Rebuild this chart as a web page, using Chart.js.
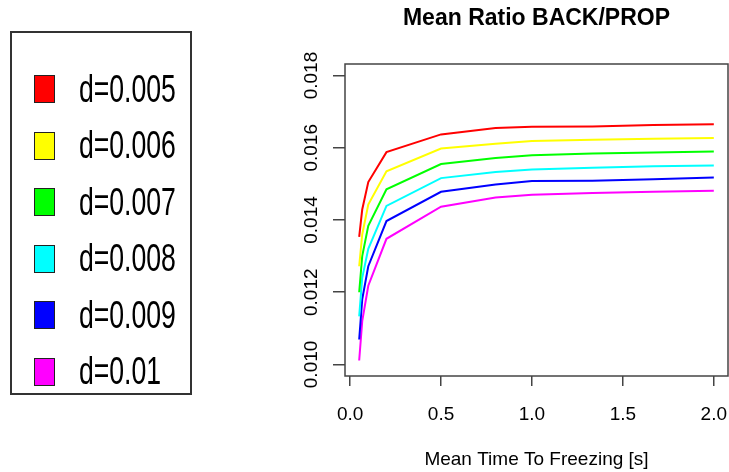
<!DOCTYPE html>
<html>
<head>
<meta charset="utf-8">
<script src="https://cdn.jsdelivr.net/npm/chart.js@4.4.1/dist/chart.umd.min.js"></script>
<style>
  html, body { margin: 0; padding: 0; background: #fff; }
  #wrap { position: relative; width: 729px; height: 472px; }
  #chart { position: absolute; left: 0; top: 0; }
  #legend {
    position: absolute; left: 10px; top: 31px; width: 182px; height: 364px;
    box-sizing: border-box; border: 2px solid #333; padding-top: 27.75px;
    font-family: "Liberation Sans", Arial, sans-serif; overflow: hidden;
  }
  .row { height: 56.5px; display: flex; align-items: center; }
  .sw { flex: none; width: 21px; height: 28px; box-sizing: border-box; border: 1px solid #222; margin-left: 22px; }
  .lab { flex: none; font-size: 38px; line-height: 56.5px; margin-left: 24px; transform: scaleX(0.70); transform-origin: left center; white-space: nowrap; color: #000; }
</style>
</head>
<body>
<div id="wrap">
  <canvas id="chart" width="729" height="472"></canvas>
  <div id="legend"></div>
</div>
<script>
// values
const timeValues = [0.05, 0.0667, 0.1, 0.2, 0.5, 0.8, 1.0, 1.333, 1.667, 2.0];
const seriesLabels = ["d=0.005", "d=0.006", "d=0.007", "d=0.008", "d=0.009", "d=0.01"];
const ratioD005 = [0.01353, 0.01429, 0.01505, 0.01588, 0.01637, 0.01655, 0.01658, 0.01659, 0.01663, 0.01665];
const ratioD006 = [0.01272, 0.01360, 0.01443, 0.01535, 0.01598, 0.01611, 0.01619, 0.01622, 0.01625, 0.01627];
const ratioD007 = [0.01200, 0.01300, 0.01384, 0.01485, 0.01555, 0.01572, 0.01579, 0.01584, 0.01587, 0.01590];
const ratioD008 = [0.01133, 0.01240, 0.01320, 0.01439, 0.01516, 0.01533, 0.01540, 0.01545, 0.01549, 0.01551];
const ratioD009 = [0.01069, 0.01180, 0.01272, 0.01397, 0.01478, 0.01498, 0.01508, 0.01509, 0.01513, 0.01518];
const ratioD010 = [0.01011, 0.01120, 0.01218, 0.01348, 0.01437, 0.01462, 0.01470, 0.01475, 0.01478, 0.01481];
const xTicks = [0, 0.5, 1.0, 1.5, 2.0];
const yTicks = [0.010, 0.012, 0.014, 0.016, 0.018];

const seriesValues = [ratioD005, ratioD006, ratioD007, ratioD008, ratioD009, ratioD010];
const lineColors = ["#ff0000", "#ffff00", "#00ff00", "#00ffff", "#0000ff", "#ff00ff"];
const FONT = '"Liberation Sans", Arial, sans-serif';

// html legend, built from the same labels/colours
const legendEl = document.getElementById('legend');
seriesLabels.forEach((lab, i) => {
    const row = document.createElement('div');
    row.className = 'row';
    row.innerHTML = '<div class="sw" style="background:' + lineColors[i] + '"></div><div class="lab">' + lab + '</div>';
    legendEl.appendChild(row);
});

// box round the plot + rotated y labels (R style)
const rStyle = {
    id: 'rStyle',
    afterDraw(chart) {
        const ctx = chart.ctx;
        const a = chart.chartArea;
        ctx.save();
        ctx.strokeStyle = '#444';
        ctx.lineWidth = 1.5;
        ctx.strokeRect(a.left, a.top, a.right - a.left, a.bottom - a.top);
        const ys = chart.scales.y;
        ctx.fillStyle = '#000';
        ctx.font = '19px ' + FONT;
        ctx.textAlign = 'center';
        ctx.textBaseline = 'alphabetic';
        yTicks.forEach(v => {
            ctx.save();
            ctx.translate(317, ys.getPixelForValue(v));
            ctx.rotate(-Math.PI / 2);
            ctx.fillText(v.toFixed(3), 0, 0);
            ctx.restore();
        });
        ctx.restore();
    }
};

new Chart(document.getElementById('chart'), {
    type: 'line',
    data: {
        datasets: seriesValues.map((vals, i) => ({
            label: seriesLabels[i],
            data: vals.map((v, j) => ({ x: timeValues[j], y: v })),
            borderColor: lineColors[i],
            borderWidth: 2,
            pointRadius: 0,
            tension: 0,
            fill: false
        }))
    },
    options: {
        responsive: false,
        animation: false,
        layout: { padding: { left: 0, right: 1, top: 5, bottom: 0 } },
        plugins: {
            legend: { display: false },
            tooltip: { enabled: false },
            title: {
                display: true,
                text: 'Mean Ratio BACK/PROP',
                fullSize: false,
                color: '#000',
                font: { family: FONT, size: 23, weight: 'bold' },
                padding: { top: 0, bottom: 31.4 }
            }
        },
        scales: {
            x: {
                type: 'linear',
                min: -0.028,
                max: 2.078,
                afterBuildTicks: s => { s.ticks = xTicks.map(v => ({ value: v })); },
                afterFit: s => { s.height = 96; s.paddingLeft = 0; s.paddingRight = 0; },
                grid: { drawOnChartArea: false, drawTicks: true, tickLength: 10, color: '#444', lineWidth: 1.5 },
                border: { display: false },
                ticks: {
                    color: '#000',
                    font: { family: FONT, size: 19 },
                    padding: 17,
                    maxRotation: 0,
                    callback: v => v.toFixed(1)
                },
                title: {
                    display: true,
                    text: 'Mean Time To Freezing [s]',
                    color: '#000',
                    font: { family: FONT, size: 19 },
                    padding: { top: 0, bottom: 1 }
                }
            },
            y: {
                min: 0.00968,
                max: 0.01832,
                afterBuildTicks: s => { s.ticks = yTicks.map(v => ({ value: v })); },
                afterFit: s => { s.width = 345; s.paddingTop = 0; s.paddingBottom = 0; },
                grid: { drawOnChartArea: false, drawTicks: true, tickLength: 12, color: '#444', lineWidth: 1.5 },
                border: { display: false },
                ticks: { display: false }
            }
        }
    },
    plugins: [rStyle]
});
</script>
</body>
</html>
